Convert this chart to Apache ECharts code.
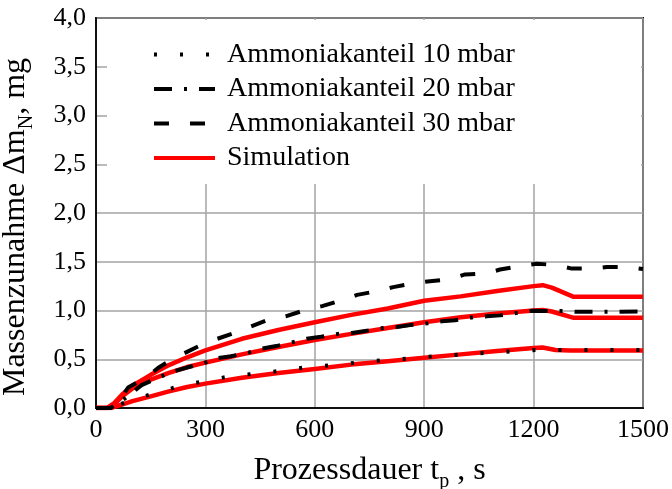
<!DOCTYPE html>
<html>
<head>
<meta charset="utf-8">
<script src="https://cdn.jsdelivr.net/npm/echarts@6/dist/echarts.min.js"></script>
<style>
  html, body { margin: 0; padding: 0; background: #ffffff; }
  #chart { width: 672px; height: 489px; }
</style>
</head>
<body>
<div id="chart"></div>
<script>
// Mass gain of nitrided samples over process time, measured vs. simulated.

// Axis ticks
const xTicks = [0, 300, 600, 900, 1200, 1500];
const yTicks = [0, 0.5, 1.0, 1.5, 2.0, 2.5, 3.0, 3.5, 4.0];

// Measurement, ammonia share 10 mbar
const exp10T = [0, 40, 75, 150, 220, 290, 360, 430, 505, 575, 650, 720, 790, 865, 935, 1005, 1080, 1150, 1220, 1300, 1400, 1500];
const exp10V = [0, 0, 0.05, 0.14, 0.215, 0.27, 0.32, 0.35, 0.38, 0.417, 0.44, 0.468, 0.49, 0.51, 0.533, 0.55, 0.567, 0.584, 0.597, 0.594, 0.594, 0.594];

// Measurement, ammonia share 20 mbar
const exp20T = [0, 40, 80, 125, 170, 208, 250, 295, 332, 370, 420, 455, 494, 540, 578, 617, 664, 702, 738, 787, 825, 861, 910, 948, 985, 1034, 1072, 1108, 1157, 1195, 1231, 1280, 1320, 1400, 1500];
const exp20V = [0, 0, 0.10, 0.235, 0.31, 0.37, 0.415, 0.46, 0.51, 0.53, 0.57, 0.61, 0.635, 0.676, 0.71, 0.73, 0.76, 0.77, 0.79, 0.82, 0.83, 0.85, 0.87, 0.89, 0.90, 0.93, 0.94, 0.95, 0.976, 0.997, 0.994, 0.994, 0.987, 0.987, 0.99];

// Measurement, ammonia share 30 mbar
const exp30T = [0, 40, 65, 88, 126, 150, 170, 200, 225, 285, 325, 380, 420, 483, 520, 578, 620, 677, 716, 773, 815, 870, 916, 970, 1012, 1069, 1108, 1168, 1209, 1264, 1305, 1363, 1401, 1459, 1500];
const exp30V = [0, 0, 0.08, 0.21, 0.29, 0.35, 0.41, 0.48, 0.53, 0.64, 0.70, 0.77, 0.83, 0.92, 0.94, 1.01, 1.045, 1.11, 1.16, 1.20, 1.24, 1.28, 1.30, 1.32, 1.37, 1.38, 1.42, 1.458, 1.48, 1.465, 1.43, 1.43, 1.445, 1.445, 1.425];

// Simulation runs
const sim10T = [0, 40, 75, 100, 150, 200, 250, 300, 400, 500, 600, 700, 800, 900, 1000, 1100, 1200, 1225, 1260, 1300, 1400, 1500];
const sim10V = [0, 0, 0.04, 0.07, 0.12, 0.17, 0.215, 0.25, 0.31, 0.36, 0.40, 0.445, 0.48, 0.515, 0.55, 0.585, 0.615, 0.62, 0.595, 0.59, 0.59, 0.59];

const sim20T = [0, 30, 50, 75, 100, 150, 200, 250, 300, 400, 500, 600, 700, 800, 900, 1000, 1100, 1200, 1225, 1250, 1310, 1400, 1500];
const sim20V = [0, 0, 0.04, 0.13, 0.20, 0.29, 0.36, 0.42, 0.465, 0.55, 0.625, 0.697, 0.76, 0.82, 0.88, 0.93, 0.97, 1.0, 1.005, 0.99, 0.925, 0.925, 0.925];

const sim30T = [0, 30, 50, 75, 100, 150, 200, 250, 300, 400, 500, 600, 700, 800, 900, 1000, 1100, 1200, 1225, 1250, 1310, 1400, 1500];
const sim30V = [0, 0, 0.05, 0.15, 0.23, 0.34, 0.44, 0.52, 0.59, 0.71, 0.80, 0.88, 0.955, 1.02, 1.10, 1.145, 1.20, 1.25, 1.26, 1.235, 1.14, 1.14, 1.14];

const legendNames = ['Ammoniakanteil 10 mbar', 'Ammoniakanteil 20 mbar', 'Ammoniakanteil 30 mbar', 'Simulation'];

const FONT = '"Liberation Serif", "Times New Roman", serif';
const GRID = { left: 96, right: 29, top: 18, bottom: 81 };
const W = 672, H = 489;

const pairs = (t, v) => t.map((x, i) => [x, v[i]]);

function simSeries(t, v) {
  return {
    name: 'Simulation', type: 'line', data: pairs(t, v),
    symbol: 'none', z: 2,
    lineStyle: { color: '#ff0000', width: 4.5, cap: 'butt', join: 'round' },
    itemStyle: { color: '#ff0000', opacity: 0 }
  };
}
function expSeries(name, t, v, dash) {
  return {
    name, type: 'line', data: pairs(t, v),
    symbol: 'none', z: 3,
    lineStyle: { color: '#000000', width: 4, type: dash, cap: 'butt', join: 'round' },
    itemStyle: { color: '#000000', opacity: 0 }
  };
}

const chart = echarts.init(document.getElementById('chart'), null, { renderer: 'canvas' });

const plotRight = W - GRID.right;

const nameRich = {
  b: { fontFamily: FONT, fontSize: 32, lineHeight: 34, verticalAlign: 'top', color: '#000' },
  s: { fontFamily: FONT, fontSize: 20, lineHeight: 21, padding: [17, 0, 0, 0], verticalAlign: 'top', color: '#000' }
};

chart.setOption({
  animation: false,
  backgroundColor: '#ffffff',
  grid: {
    left: GRID.left, right: GRID.right, top: GRID.top, bottom: GRID.bottom,
    outerBoundsMode: 'none', containLabel: false,
    show: true, borderColor: '#111111', borderWidth: 2, backgroundColor: 'transparent'
  },
  xAxis: {
    type: 'value', min: xTicks[0], max: xTicks[xTicks.length - 1], interval: 300,
    axisLine: { show: true, lineStyle: { color: '#111111', width: 2 } },
    axisTick: { show: false },
    splitLine: { show: true, lineStyle: { color: '#a3a3a3', width: 1.5 } },
    axisLabel: { fontFamily: FONT, fontSize: 26, color: '#000', margin: 9,
      formatter: v => String(v) },
    name: '{b|Prozessdauer t}{s|p}{b| , s}',
    nameLocation: 'middle', nameGap: 47,
    nameTextStyle: { fontFamily: FONT, color: '#000', rich: nameRich }
  },
  yAxis: {
    type: 'value', min: yTicks[0], max: yTicks[yTicks.length - 1], interval: 0.5,
    axisLine: { show: true, lineStyle: { color: '#111111', width: 2 } },
    axisTick: { show: false },
    splitLine: { show: true, lineStyle: { color: '#a3a3a3', width: 1.5 } },
    axisLabel: { fontFamily: FONT, fontSize: 26, color: '#000', margin: 10,
      formatter: v => v.toFixed(1).replace('.', ',') },
    name: '{b|Massenzunahme Δm}{s|N}{b|, mg}',
    nameLocation: 'middle', nameGap: 62, nameRotate: 90,
    nameTextStyle: { fontFamily: FONT, color: '#000', rich: nameRich, padding: [0, 28, 0, 0] }
  },
  legend: {
    data: legendNames,
    orient: 'vertical',
    left: 152, top: 39,
    itemWidth: 61, itemHeight: 14, itemGap: 3.5,
    padding: 0,
    itemStyle: { opacity: 0 },
    lineStyle: { width: 4 },
    textStyle: { fontFamily: FONT, fontSize: 28, color: '#000', lineHeight: 31, padding: [0, 0, 0, 7] },
    z: 5
  },
  graphic: [{
    type: 'rect', z: 1, silent: true,
    shape: { x: GRID.left + 11, y: GRID.top + 2, width: plotRight - 2 - (GRID.left + 11), height: 184 - (GRID.top + 2) },
    style: { fill: '#ffffff' }
  }],
  series: [
    simSeries(sim10T, sim10V),
    simSeries(sim20T, sim20V),
    simSeries(sim30T, sim30V),
    expSeries(legendNames[0], exp10T, exp10V, [3, 23]),
    expSeries(legendNames[1], exp20T, exp20V, [18, 12, 3, 12]),
    expSeries(legendNames[2], exp30T, exp30V, [15, 21])
  ]
});
</script>
</body>
</html>
